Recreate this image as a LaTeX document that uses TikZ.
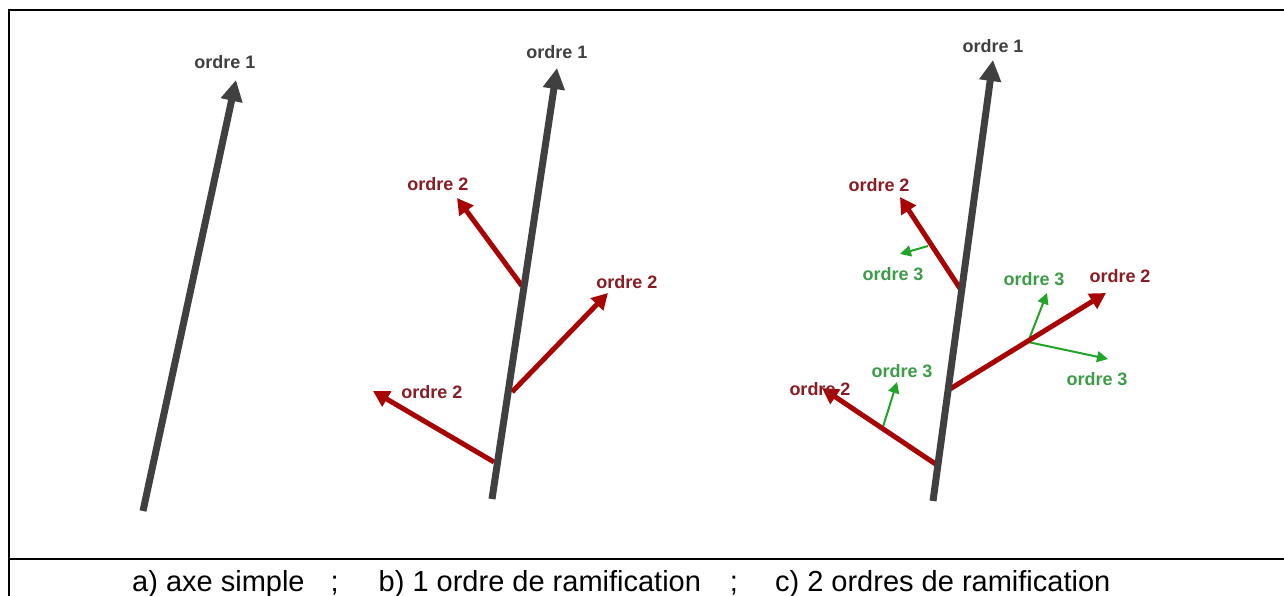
\documentclass[tikz,border=0pt]{standalone}
\usepackage{fontspec}
\setmainfont{Liberation Sans}
\usetikzlibrary{arrows.meta}
\definecolor{axisgray}{HTML}{404040}
\definecolor{branchred}{HTML}{A80404}
\definecolor{labred}{HTML}{8A1C24}
\definecolor{branchgreen}{HTML}{22A32A}
\definecolor{labgreen}{HTML}{3C9C48}
\tikzset{
  axe/.style={draw=axisgray, line width=7pt, -{Triangle[width=21pt,length=21pt]}},
  ord2/.style={draw=branchred, line width=5pt, -{Triangle[width=17pt,length=16pt]}},
  ord3/.style={draw=branchgreen, line width=2pt, -{Triangle[width=11pt,length=11pt]}},
  lab1/.style={font=\fontsize{18}{20}\selectfont\bfseries, text=axisgray, inner sep=0pt},
  lab2/.style={font=\fontsize{18}{20}\selectfont\bfseries, text=labred, inner sep=0pt},
  lab3/.style={font=\fontsize{18}{20}\selectfont\bfseries, text=labgreen, inner sep=0pt},
  frame/.style={draw=black, line width=1.5pt},
  caption/.style={font=\fontsize{29}{32}\selectfont, inner sep=0pt}
}
\begin{document}
\begin{tikzpicture}[x=1pt,y=-1pt]
\useasboundingbox (0,0) rectangle (1284,596);
\fill[white] (0,0) rectangle (1284,596);
% frame
\draw[frame] (9,600) -- (9,10) -- (1290,10);
\draw[frame] (9,559) -- (1290,559);
% caption
\node[caption, anchor=base west] (cap) at (132,591) {a) axe simple\hspace{26pt};\hspace{40pt}b) 1 ordre de ramification\hspace{29pt};\hspace{37pt}c) 2 ordres de ramification};
% panel a
\coordinate (a0) at (143,511);
\coordinate (a1) at (236,80);
\draw[axe] (a0) -- (a1);
\node[lab1] (la) at (225,62) {ordre 1};
% panel b
\coordinate (b0) at (492,499);
\coordinate (b1) at (557,68);
\coordinate (bu0) at (522,286);
\coordinate (bu1) at (457,198);
\coordinate (br0) at (512,392);
\coordinate (br1) at (608,293);
\coordinate (bl0) at (494,462);
\coordinate (bl1) at (373,391);
\draw[ord2] (bu0) -- (bu1);
\draw[ord2] (br0) -- (br1);
\draw[ord2] (bl0) -- (bl1);
\draw[axe] (b0) -- (b1);
\node[lab1] (lb) at (557,52) {ordre 1};
\node[lab2] (lbu) at (438,184) {ordre 2};
\node[lab2] (lbr) at (627,282) {ordre 2};
\node[lab2] (lbl) at (432,392) {ordre 2};
% panel c
\coordinate (c0) at (933,501);
\coordinate (c1) at (993,60);
\coordinate (cu0) at (961,290);
\coordinate (cu1) at (900,197);
\coordinate (cr0) at (950,389);
\coordinate (cr1) at (1106,293);
\coordinate (cl0) at (937,465);
\coordinate (cl1) at (822,388);
\coordinate (g1a) at (928,246);
\coordinate (g1b) at (900,254);
\coordinate (g2a) at (1028,342);
\coordinate (g2b) at (1047,293);
\coordinate (g3b) at (1108,359);
\coordinate (g4a) at (882,430);
\coordinate (g4b) at (897,382);
\draw[ord3] (g1a) -- (g1b);
\draw[ord3] (g2a) -- (g2b);
\draw[ord3] (g2a) -- (g3b);
\draw[ord3] (g4a) -- (g4b);
\draw[ord2] (cu0) -- (cu1);
\draw[ord2] (cr0) -- (cr1);
\draw[ord2] (cl0) -- (cl1);
\draw[axe] (c0) -- (c1);
\node[lab1] (lc) at (993,46) {ordre 1};
\node[lab2] (lcu) at (879,185) {ordre 2};
\node[lab2] (lcr) at (1120,276) {ordre 2};
\node[lab2] (lcl) at (820,389) {ordre 2};
\node[lab3] (lg1) at (893,274) {ordre 3};
\node[lab3] (lg2) at (1034,279) {ordre 3};
\node[lab3] (lg3) at (1097,379) {ordre 3};
\node[lab3] (lg4) at (902,371) {ordre 3};
\end{tikzpicture}
\end{document}
